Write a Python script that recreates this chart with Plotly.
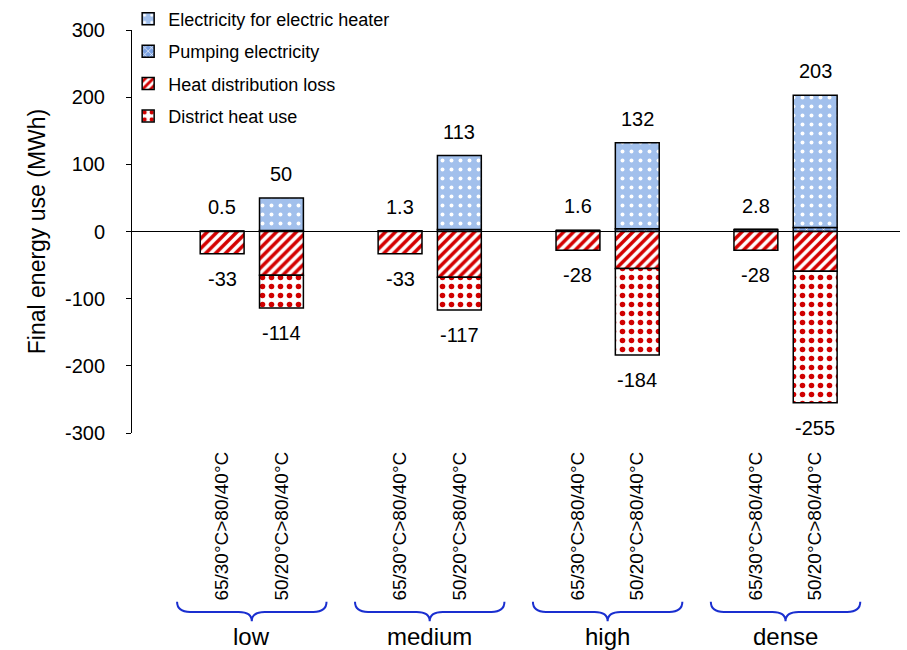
import plotly.graph_objects as go

# Density groups and supply/return temperature variants
groups = ["low", "medium", "high", "dense"]
variants = ["65/30°C&gt;80/40°C", "50/20°C&gt;80/40°C"]

# Components per bar (order: low 65/30, low 50/20, medium 65/30, medium 50/20, ...)
pumping = [0.5, 1.5, 1.3, 3.0, 1.6, 4.0, 2.8, 6.0]
pos_total = [0.5, 50, 1.3, 113, 1.6, 132, 2.8, 203]
heat_loss = [-33, -65, -33, -68, -28, -55, -28, -59]
neg_total = [-33, -114, -33, -117, -28, -184, -28, -255]

electric_heater = [t - p for t, p in zip(pos_total, pumping)]
district_heat = [t - l for t, l in zip(neg_total, heat_loss)]

# y-axis ticks (plain hyphen for negatives)
ytick_vals = [-300, -200, -100, 0, 100, 200, 300]
ytick_text = [str(v) for v in ytick_vals]

# x positions: two bars per group, one empty slot between groups
xpos = [g * 3 + j for g in range(len(groups)) for j in range(len(variants))]
xtext = [v for _ in groups for v in variants]
group_centers = [g * 3 + 0.5 for g in range(len(groups))]

outline = dict(color="black", width=1.5)
fig = go.Figure()

fig.add_trace(go.Bar(
    x=xpos, y=pumping, name="Pumping electricity", legendrank=2, legendgroup="p",
    marker=dict(color="#7aa0e0", line=outline,
                pattern=dict(shape="x", fgcolor="white", size=6, solidity=0.25,
                             fgopacity=1)),
))
fig.add_trace(go.Bar(
    x=xpos, y=electric_heater, name="Electricity for electric heater",
    legendrank=1, legendgroup="e",
    marker=dict(color="#a2c0ec", line=outline,
                pattern=dict(shape=".", fgcolor="white", size=9, solidity=0.15,
                             fgopacity=1)),
))
fig.add_trace(go.Bar(
    x=xpos, y=heat_loss, name="Heat distribution loss", legendrank=3, legendgroup="h",
    marker=dict(color="white", line=outline,
                pattern=dict(shape="/", fgcolor="#d40000", size=7, solidity=0.5,
                             fgopacity=1)),
))
fig.add_trace(go.Bar(
    x=xpos, y=district_heat, name="District heat use", legendrank=4, legendgroup="d",
    marker=dict(color="white", line=outline,
                pattern=dict(shape=".", fgcolor="#d00000", size=9, solidity=0.3,
                             fgopacity=1)),
))

# Total labels above and below each bar
for x, p, n in zip(xpos, pos_total, neg_total):
    fig.add_annotation(x=x, y=p, text=f"{p:g}", showarrow=False, yshift=24,
                       font=dict(size=20, color="black"))
    fig.add_annotation(x=x, y=n, text=f"{n:g}", showarrow=False, yshift=-25,
                       font=dict(size=20, color="black"))

# Curly braces and group names under the variant labels
half, r = 1.26, 0.22
y_top, y_line, y_tip = -0.419, -0.444, -0.467
for c, name in zip(group_centers, groups):
    xl, xr = c - half, c + half
    path = (f"M {xl},{y_top} Q {xl},{y_line} {xl + r},{y_line} "
            f"L {c - r},{y_line} Q {c},{y_line} {c},{y_tip} "
            f"Q {c},{y_line} {c + r},{y_line} "
            f"L {xr - r},{y_line} Q {xr},{y_line} {xr},{y_top}")
    fig.add_shape(type="path", path=path, xref="x", yref="paper",
                  line=dict(color="#1a2fd0", width=2))
    fig.add_annotation(x=c, y=-0.506, xref="x", yref="paper", text=name,
                       showarrow=False, font=dict(size=24, color="black"),
                       yanchor="middle")

fig.update_layout(
    width=907, height=650,
    margin=dict(l=132, r=7, t=30, b=217, autoexpand=False),
    barmode="relative", bargap=0.26,
    plot_bgcolor="white", paper_bgcolor="white",
    font=dict(family="Liberation Sans, Arial, sans-serif", color="black"),
    legend=dict(x=-0.005, y=1.073, xanchor="left", yanchor="top",
                font=dict(size=18), itemwidth=30, tracegroupgap=6,
                bgcolor="rgba(0,0,0,0)"),
    showlegend=True,
)
fig.update_xaxes(
    range=[-1.52, 11.43], tickvals=xpos, ticktext=xtext, tickangle=-90,
    showline=False, showgrid=False, zeroline=False, ticks="",
    ticklabelstandoff=14, tickfont=dict(size=19),
)
fig.update_yaxes(
    range=[-300, 300], tickvals=ytick_vals, ticktext=ytick_text,
    showline=True, linecolor="black", linewidth=1,
    ticks="outside", ticklen=5, tickcolor="black", showgrid=False,
    zeroline=True, zerolinecolor="black", zerolinewidth=1,
    tickfont=dict(size=20), ticklabelstandoff=17,
    title=dict(text="Final energy use (MWh)", font=dict(size=23), standoff=12),
)

fig.write_html("out.html")
